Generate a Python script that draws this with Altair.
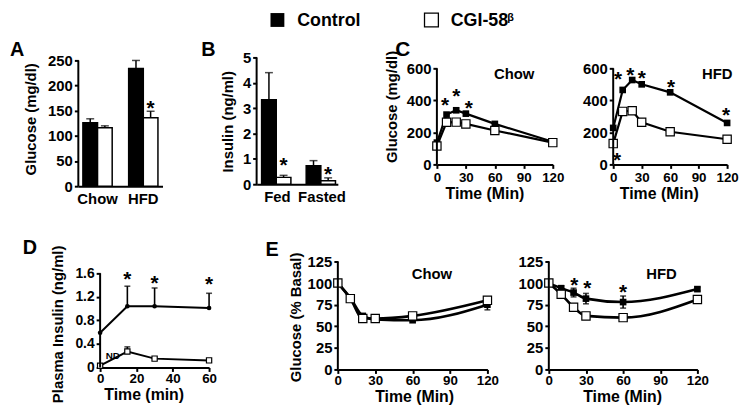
import altair as alt
import pandas as pd

FONT = "Liberation Sans"

# ---------------- data ----------------
groups = ["Control", "CGI-58"]

A_diets = ["Chow", "HFD"]
A_ctrl = [126, 234]
A_ctrl_hi = [134, 250]
A_cgi = [116, 136]
A_cgi_hi = [120, 149]
A_star_y = [165]

B_states = ["Fed", "Fasted"]
B_ctrl = [3.33, 0.73]
B_ctrl_hi = [4.4, 0.93]
B_cgi = [0.27, 0.14]
B_cgi_hi = [0.35, 0.25]
B_star_y = [0.94, 0.60]

C_time = [0, 10, 20, 30, 60, 120]
C_chow_ctrl = [136, 311, 338, 317, 253, 142]
C_chow_cgi = [115, 263, 264, 253, 212, 136]
C_hfd_ctrl = [228, 465, 527, 500, 450, 259]
C_hfd_cgi = [130, 331, 335, 263, 204, 157]
C_chow_star_x = [8.5, 20, 33]
C_chow_star_y = [403, 455, 383]
C_hfd_star_x = [5, 18, 30, 61, 119, 4]
C_hfd_star_y = [562, 588, 568, 512, 341, 60]

D_time = [0, 15, 30, 60]
D_ctrl = [0.59, 1.04, 1.04, 1.01]
D_ctrl_hi = [None, 1.38, 1.35, 1.26]
D_cgi = [0.03, 0.27, 0.15, 0.12]
D_cgi_hi = [None, 0.35, None, None]
D_star_x = [15, 30, 60]
D_star_y = [1.58, 1.52, 1.50]

E_time = [0, 10, 20, 30, 60, 120]
E_chow_ctrl = [100, 83, 62, 58, 57, 75]
E_chow_ctrl_err = [0, 1, 1, 1, 1, 6]
E_chow_cgi = [100, 82, 59, 59, 62, 80]
E_hfd_ctrl = [100, 94, 89, 82, 78, 93]
E_hfd_ctrl_err = [0, 3, 5, 6, 7, 2]
E_hfd_cgi = [100, 87, 72, 62, 60, 81]
E_hfd_star_x = [20.5, 31, 60]
E_hfd_star_y = [104, 100, 95]

one = pd.DataFrame({"k": [0]})


# ---------------- helpers ----------------
def txt(s, x, y, size=20, align="left", baseline="alphabetic", weight="bold"):
    return alt.Chart(one).mark_text(
        text=s, align=align, baseline=baseline, fontSize=size,
        fontWeight=weight, font=FONT, color="black"
    ).encode(x=alt.value(x), y=alt.value(y))


def spacer(w):
    return alt.Chart(one).mark_point(opacity=0, size=1).encode(
        x=alt.value(0), y=alt.value(0)
    ).properties(width=w, height=1)


def yaxis(values, title, tx, ty, expr=None, lsize=15):
    kw = dict(values=values, domain=False, grid=False, tickSize=4, labelOverlap=False,
              labelFontSize=lsize)
    if title:
        kw.update(title=title, titleX=tx, titleY=ty, titleAngle=-90,
                  titleAlign="center", titleBaseline="bottom", titleFontSize=15)
    else:
        kw.update(title=None)
    if expr:
        kw["labelExpr"] = expr
    return alt.Axis(**kw)


def xaxis(values, title, tx, ty, lpad, lsize=13.5):
    return alt.Axis(values=values, title=title, titleX=tx, titleY=ty,
                    titleAlign="center", titleBaseline="top", titleFontSize=16,
                    labelFontSize=lsize, labelPadding=lpad,
                    labelFlush=False, labelOverlap=False, grid=False, tickSize=4)


class P:
    """Holds a panel's scales and axes so that every layer shares identical ones."""
    def __init__(self, xs, ys, xax, yax):
        self.xs, self.ys, self.xax, self.yax = xs, ys, xax, yax

    def X(self, f):
        return alt.X(f, scale=self.xs, axis=self.xax)

    def Y(self, f):
        return alt.Y(f, scale=self.ys, axis=self.yax)

    def yline(self, ymax):
        return alt.Chart(one).mark_rule(strokeWidth=2, color="black").encode(
            x=alt.value(0), y=alt.Y(datum=0, scale=self.ys, axis=self.yax),
            y2=alt.Y2(datum=ymax))


def stars(p, xs, ys):
    df = pd.DataFrame({"t": xs, "v": ys})
    return alt.Chart(df).mark_text(
        text="*", fontSize=21, fontWeight="bold", font=FONT, color="black",
        baseline="middle", dy=6
    ).encode(x=p.X("t:Q"), y=p.Y("v:Q"))


def label(p, s, x, y, size=15):
    df = pd.DataFrame({"t": [x], "v": [y]})
    return alt.Chart(df).mark_text(text=s, fontSize=size, fontWeight="bold", font=FONT,
                                   color="black", baseline="middle").encode(
        x=p.X("t:Q"), y=p.Y("v:Q"))


# ---------------- bar panels ----------------
def bar_panel(cats, ctrl, ctrl_hi, cgi, cgi_hi, star_cats, star_y, ymax, dom_max,
              yticks, ytitle, tx, ty, pinner, pouter, align):
    df = pd.DataFrame({
        "c": cats + cats,
        "g": [groups[0]] * len(cats) + [groups[1]] * len(cats),
        "v": ctrl + cgi,
        "hi": ctrl_hi + cgi_hi,
    })
    p = P(alt.Scale(domain=cats, paddingInner=pinner, paddingOuter=pouter, align=align),
          alt.Scale(domain=[0, dom_max], nice=False),
          alt.Axis(title=None, labelAngle=0, ticks=False, labelPadding=5, labelOverlap=False),
          yaxis(yticks, ytitle, tx, ty))
    xo = alt.XOffset("g:N", scale=alt.Scale(domain=groups))
    base = alt.Chart(df)
    bars = base.mark_bar(stroke="black", strokeWidth=1.5).encode(
        x=p.X("c:N"), xOffset=xo, y=p.Y("v:Q"),
        fill=alt.Fill("g:N", scale=alt.Scale(domain=groups, range=["black", "white"]), legend=None),
    )
    err = base.mark_rule(strokeWidth=1.5, color="black").encode(
        x=p.X("c:N"), xOffset=xo, y=p.Y("v:Q"), y2="hi:Q")
    cap = base.mark_tick(orient="horizontal", size=8, thickness=1.5, color="black").encode(
        x=p.X("c:N"), xOffset=xo, y=p.Y("hi:Q"))
    sdf = pd.DataFrame({"c": star_cats, "g": [groups[1]] * len(star_cats), "v": star_y})
    st = alt.Chart(sdf).mark_text(text="*", fontSize=21, fontWeight="bold", font=FONT,
                                  color="black", baseline="middle", dy=6).encode(
        x=p.X("c:N"), xOffset=xo, y=p.Y("v:Q"))
    return [bars, err, cap, st, p.yline(ymax)]


A_layers = bar_panel(A_diets, A_ctrl, A_ctrl_hi, A_cgi, A_cgi_hi, ["HFD"], A_star_y,
                     250, 256, [0, 50, 100, 150, 200, 250], "Glucose (mg/dl)", -40, 62,
                     0.36, 0.1, 0.5)
A = alt.layer(*A_layers, txt("A", -69, -1.5)).properties(width=85, height=130)

B_layers = bar_panel(B_states, B_ctrl, B_ctrl_hi, B_cgi, B_cgi_hi, B_states, B_star_y,
                     5, 5, [0, 1, 2, 3, 4, 5], "Insulin (ng/ml)", -21, 64.5,
                     0.29, 0.056, 1)
legend = [
    alt.Chart(one).mark_square(size=196, color="black", opacity=1).encode(
        x=alt.value(21), y=alt.value(-37.8)),
    txt("Control", 41, -31.6, size=18),
    alt.Chart(one).mark_square(size=196, fill="white", stroke="black", strokeWidth=1.3,
                               opacity=1).encode(x=alt.value(176.5), y=alt.value(-37.8)),
    txt("CGI-58", 196, -31.6, size=18),
    txt("β", 253, -37, size=11),
]
B = alt.layer(*B_layers, txt("B", -56, -1.5), *legend).properties(width=82, height=128)


# ---------------- line panels ----------------
def line_panel(times, ctrl, cgi, xdom, xticks, ydom, yticks, ymax, ytitle, tx, ty,
               xtitle, xtx, xty, lpad, interp="linear", ctrl_err=None, ctrl_hi=None,
               cgi_hi=None, ctrl_size=45, cgi_size=70, ctrl_shape="square", yexpr=None,
               lw=2.2, ylsize=15):
    n = len(times)
    p = P(alt.Scale(domain=xdom, nice=False), alt.Scale(domain=ydom, nice=False),
          xaxis(xticks, xtitle, xtx, xty, lpad), yaxis(yticks, ytitle, tx, ty, yexpr, ylsize))
    df = pd.DataFrame({"t": times * 2, "v": ctrl + cgi, "g": [groups[0]] * n + [groups[1]] * n})
    lines = alt.Chart(df).mark_line(color="black", strokeWidth=lw, interpolate=interp).encode(
        x=p.X("t:Q"), y=p.Y("v:Q"), detail="g:N")
    layers = [lines]
    erows = []
    if ctrl_err is not None:
        for t, v, e in zip(times, ctrl, ctrl_err):
            if e > 1:
                erows.append((t, v - e, v + e))
    if ctrl_hi is not None:
        for t, v, h in zip(times, ctrl, ctrl_hi):
            if h is not None:
                erows.append((t, v, h))
    if cgi_hi is not None:
        for t, v, h in zip(times, cgi, cgi_hi):
            if h is not None:
                erows.append((t, v, h))
    if erows:
        edf = pd.DataFrame(erows, columns=["t", "lo", "hi"])
        layers.append(alt.Chart(edf).mark_rule(strokeWidth=1.6, color="black").encode(
            x=p.X("t:Q"), y=p.Y("lo:Q"), y2="hi:Q"))
        layers.append(alt.Chart(edf).mark_tick(orient="horizontal", size=6, thickness=1.6,
                                               color="black").encode(
            x=p.X("t:Q"), y=p.Y("hi:Q")))
        if ctrl_err is not None:
            layers.append(alt.Chart(edf).mark_tick(orient="horizontal", size=6, thickness=1.6,
                                                   color="black").encode(
                x=p.X("t:Q"), y=p.Y("lo:Q")))
    cdf = pd.DataFrame({"t": times, "v": ctrl})
    gdf = pd.DataFrame({"t": times, "v": cgi})
    layers.append(alt.Chart(cdf).mark_point(shape=ctrl_shape, filled=True, color="black",
                                            size=ctrl_size, opacity=1).encode(
        x=p.X("t:Q"), y=p.Y("v:Q")))
    layers.append(alt.Chart(gdf).mark_point(shape="square", filled=True, fill="white",
                                            stroke="black", strokeWidth=1.2,
                                            size=cgi_size, opacity=1).encode(
        x=p.X("t:Q"), y=p.Y("v:Q")))
    layers.append(p.yline(ymax))
    return layers, p


CY = [0, 668]
C1_layers, pc1 = line_panel(C_time, C_chow_ctrl, C_chow_cgi, [0, 120], [0, 30, 60, 90, 120], CY,
                            [0, 200, 400, 600], 600, "Glucose (mg/dl)", -38, 49.5,
                            "Time (Min)", 48, 21, 2)
C1 = alt.layer(*C1_layers, stars(pc1, C_chow_star_x, C_chow_star_y),
               label(pc1, "Chow", 80, 562), txt("C", -42, -1, size=21)
               ).properties(width=117, height=108)

C2_layers, pc2 = line_panel(C_time, C_hfd_ctrl, C_hfd_cgi, [0, 120], [0, 30, 60, 90, 120], CY,
                            [0, 200, 400, 600], 600, None, 0, 0,
                            "Time (Min)", 46, 21, 2)
C2 = alt.layer(*C2_layers, stars(pc2, C_hfd_star_x, C_hfd_star_y),
               label(pc2, "HFD", 109.6, 562)).properties(width=115, height=108)

D_layers, pd_ = line_panel(D_time, D_ctrl, D_cgi, [0, 60], [0, 20, 40, 60], [0, 1.80],
                           [0, 0.4, 0.8, 1.2, 1.6], 1.6, "Plasma Insulin (ng/ml)", -35, 63,
                           "Time (min)", 44, 19, 0, ctrl_hi=D_ctrl_hi, cgi_hi=D_cgi_hi,
                           ctrl_size=22, cgi_size=28, ctrl_shape="circle",
                           yexpr="datum.value == 0 ? '0' : format(datum.value, '.1f')", lw=2,
                           ylsize=14)
D = alt.layer(*D_layers, stars(pd_, D_star_x, D_star_y),
              label(pd_, "ND", 7, 0.2, size=10), txt("D", -78, -8)
              ).properties(width=110, height=107)

EY = [0, 125]
E1_layers, pe1 = line_panel(E_time, E_chow_ctrl, E_chow_cgi, [0, 120], [0, 30, 60, 90, 120], EY,
                            [0, 25, 50, 75, 100, 125], 125, "Glucose (% Basal)", -35, 56,
                            "Time (Min)", 77, 19, 0, interp="monotone",
                            ctrl_err=E_chow_ctrl_err, lw=2.6)
E1 = alt.layer(*E1_layers, label(pe1, "Chow", 75.5, 111), txt("E", -73, -6)
               ).properties(width=151, height=109)

E2_layers, pe2 = line_panel(E_time, E_hfd_ctrl, E_hfd_cgi, [0, 120], [0, 30, 60, 90, 120], EY,
                            [0, 25, 50, 75, 100, 125], 125, None, 0, 0,
                            "Time (Min)", 74, 19, 0, interp="monotone",
                            ctrl_err=E_hfd_ctrl_err, lw=2.6)
E2 = alt.layer(*E2_layers, stars(pe2, E_hfd_star_x, E_hfd_star_y),
               label(pe2, "HFD", 91, 111)).properties(width=150, height=109)

row1 = alt.hconcat(spacer(70), A, spacer(95), B, spacer(100), C1, spacer(61), C2,
                   spacing=0, bounds="flush")
row2 = alt.hconcat(spacer(92), D, spacer(130), E1, spacer(62), E2,
                   spacing=0, bounds="flush")

chart = alt.vconcat(row1, row2, spacing=32).properties(padding=0).configure_view(
    stroke=None
).configure_axis(
    labelFont=FONT, labelFontSize=15, labelFontWeight="bold", labelColor="black",
    titleFont=FONT, titleFontSize=16, titleFontWeight="bold", titleColor="black",
    domainColor="black", domainWidth=2, tickColor="black", tickWidth=2, labelPadding=2,
    grid=False, labelOverlap=False,
)

chart.save("out.html", embed_options={"renderer": "svg", "actions": False})
